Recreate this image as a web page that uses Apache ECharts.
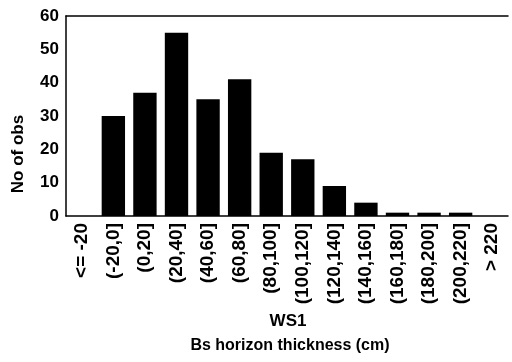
<!DOCTYPE html>
<html>
<head>
<meta charset="utf-8">
<script src="https://cdn.jsdelivr.net/npm/echarts@6/dist/echarts.min.js"></script>
<style>
  html, body { margin: 0; padding: 0; background: #fff; }
  #main { width: 512px; height: 362px; }
</style>
</head>
<body>
<div id="main"></div>
<script>
// 直方图数据
var categories = ['<= -20', '(-20,0]', '(0,20]', '(20,40]', '(40,60]', '(60,80]', '(80,100]',
  '(100,120]', '(120,140]', '(140,160]', '(160,180]', '(180,200]', '(200,220]', '> 220'];
var counts = [0, 30, 37, 55, 35, 41, 19, 17, 9, 4, 1, 1, 1, 0];
var yTicks = [0, 10, 20, 30, 40, 50, 60];

var font = 'Liberation Sans, Arial, sans-serif';
var chart = echarts.init(document.getElementById('main'));

var option = {
  backgroundColor: '#fff',
  animation: false,
  grid: { left: 66, right: 4, top: 16, bottom: 146 },
  xAxis: [{
    type: 'category',
    data: categories,
    axisLine: { lineStyle: { color: '#000', width: 1.5 } },
    axisTick: { show: false },
    axisLabel: {
      rotate: 90, interval: 0, margin: 7,
      color: '#000', fontFamily: font, fontSize: 19, fontWeight: 'bold'
    }
  }, {
    type: 'category',
    position: 'top',
    data: categories,
    axisLine: { lineStyle: { color: '#000', width: 1.5 } },
    axisTick: { show: false },
    axisLabel: { show: false }
  }],
  yAxis: {
    type: 'value',
    min: yTicks[0], max: yTicks[yTicks.length - 1], interval: 10,
    splitLine: { show: false },
    axisLine: { show: true, lineStyle: { color: '#000', width: 1.5 } },
    axisTick: { show: false },
    axisLabel: { color: '#000', fontFamily: font, fontSize: 17, fontWeight: 'bold', margin: 7 }
  },
  series: [{
    type: 'bar',
    data: counts,
    barWidth: '74%',
    itemStyle: { color: '#000' }
  }],
  graphic: [
    {
      type: 'text', x: 18, y: 154, rotation: Math.PI / 2,
      style: { text: 'No of obs', fill: '#000', font: 'bold 17px ' + font, textAlign: 'center', textVerticalAlign: 'middle' }
    },
    {
      type: 'text', x: 288, y: 321,
      style: { text: 'WS1', fill: '#000', font: 'bold 17px ' + font, textAlign: 'center', textVerticalAlign: 'middle' }
    },
    {
      type: 'text', x: 290, y: 346,
      style: { text: 'Bs horizon thickness (cm)', fill: '#000', font: 'bold 16px ' + font, textAlign: 'center', textVerticalAlign: 'middle' }
    }
  ]
};

chart.setOption(option);
</script>
</body>
</html>
